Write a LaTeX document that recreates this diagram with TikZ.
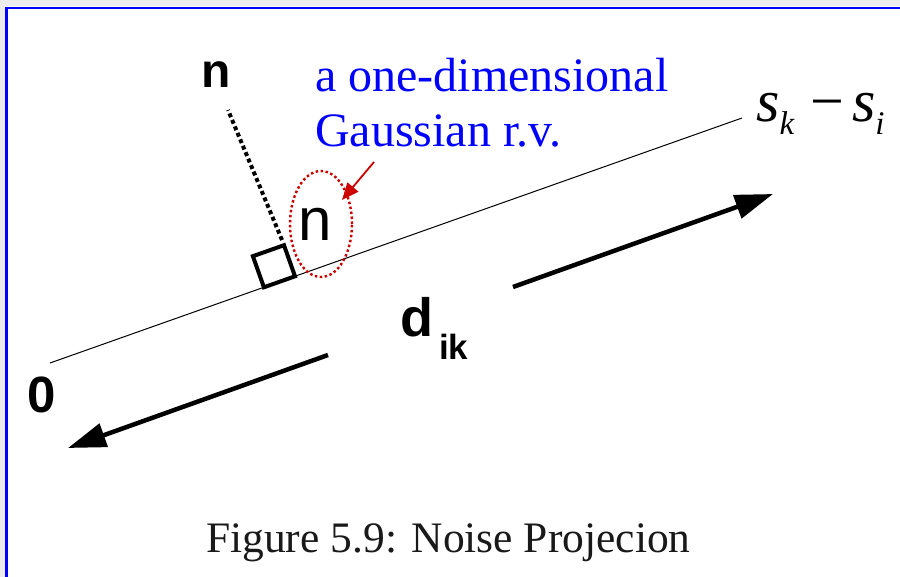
\documentclass[tikz,border=0pt]{standalone}
\usepackage{fontspec}
\setmainfont{Liberation Serif}
\newfontfamily\arialf{Liberation Sans}
\usetikzlibrary{arrows.meta}
\definecolor{frameblue}{RGB}{0,0,255}
\definecolor{redmark}{RGB}{204,0,0}
\definecolor{stripgray}{RGB}{236,236,236}
\begin{document}
\begin{tikzpicture}[x=1pt,y=-1pt,
  sansbold/.style={font={\arialf\bfseries\fontsize{#1}{#1}\selectfont},inner sep=0pt},
  sansreg/.style={font={\arialf\fontsize{#1}{#1}\selectfont},inner sep=0pt},
  serifblue/.style={font={\fontsize{48}{48}\selectfont},text=frameblue,inner sep=0pt,anchor=base west},
  bigarrow/.style={line width=4.5pt,-{Triangle[length=38pt,width=24pt]}},
  thinline/.style={line width=1pt},
  perpline/.style={line width=4pt,dash pattern=on 4pt off 3pt},
  anglemark/.style={line width=4pt,line join=miter},
  redarrow/.style={redmark,line width=1.8pt,-{Triangle[length=17pt,width=14pt]}},
  redring/.style={redmark,line width=2.4pt,dash pattern=on 2.5pt off 2.5pt}]
\useasboundingbox (0,0) rectangle (900,577);
% page edge strip and frame
\fill[stripgray] (0,0) rectangle (900,6);
\fill[stripgray] (0,0) rectangle (5,577);
\draw[frameblue,line width=2.6pt] (6.5,577) -- (6.5,8) -- (900,8);
% main line
\coordinate (O) at (50,363);
\coordinate (E) at (742,118);
\draw[thinline] (O) -- (E);
% foot of perpendicular and right-angle square
\coordinate (F) at (295,276.3);
\coordinate (SqL) at (263.9,287.3);
\coordinate (SqT) at (252.9,256.2);
\coordinate (SqR) at (284,245.2);
\draw[anglemark] (F) -- (SqL) -- (SqT) -- (SqR) -- cycle;
\coordinate (Pb) at (282,240);
\coordinate (Pt) at (228,110);
\draw[perpline] (Pb) -- (Pt);
% labels
\node[sansbold=48] (ntop) at (216.5,75) {n};
\node[sansreg=60] (nmid) at (315,224) {n};
\node[sansbold=51] (zero) at (41.5,395) {0};
\node[sansbold=54,anchor=base west] (d) at (400,337) {d};
\node[sansbold=35,anchor=base west] (ik) at (439,360) {ik};
\node[font={\itshape\fontsize{60}{60}\selectfont},inner sep=0pt,anchor=base west] (sksi) at (756,122)
  {s\raisebox{-13pt}{\fontsize{33}{33}\selectfont k}\hspace{16pt}\upshape −\hspace{8pt}\itshape s\raisebox{-13pt}{\fontsize{33}{33}\selectfont i}};
\node[serifblue] (blue1) at (315,92) {a one-dimensional};
\node[serifblue] (blue2) at (315,147) {Gaussian r.v.};
% red annotation
\draw[redring] (321,224) ellipse [x radius=31pt, y radius=53pt];
\coordinate (Ra) at (374,162);
\coordinate (Rb) at (342,200);
\draw[redarrow] (Ra) -- (Rb);
% d_ik arrows
\coordinate (A1s) at (513,287);
\coordinate (A1e) at (773,194);
\coordinate (A2s) at (328,355);
\coordinate (A2e) at (68,448);
\draw[bigarrow] (A1s) -- (A1e);
\draw[bigarrow] (A2s) -- (A2e);
% caption
\node[font={\fontsize{43.5}{44}\selectfont},inner sep=0pt,anchor=base west,text=black!90] (cap) at (206,552) {Figure 5.9: Noise Projecion};
\end{tikzpicture}
\end{document}
